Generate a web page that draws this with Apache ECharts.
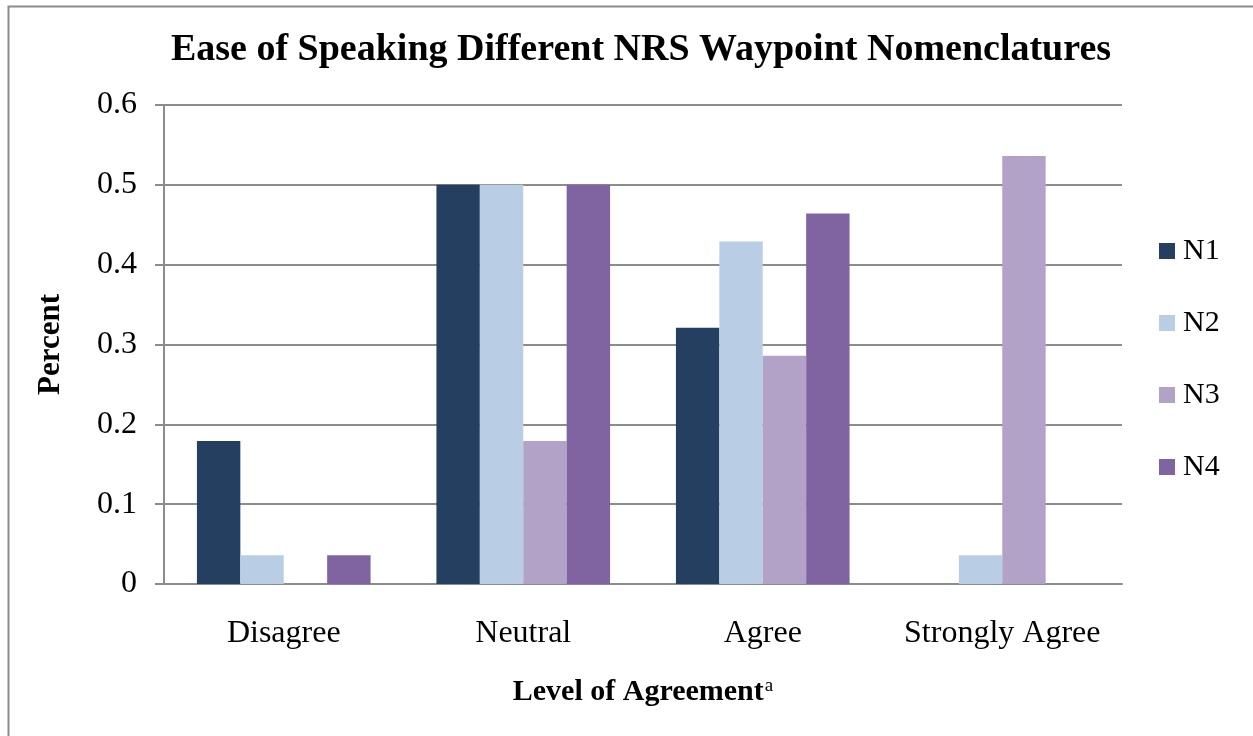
<!DOCTYPE html>
<html><head><meta charset="utf-8">
<script src="https://cdn.jsdelivr.net/npm/echarts@6/dist/echarts.min.js"></script>
<style>html,body{margin:0;padding:0;background:#fff}#c{width:1253px;height:736px}</style>
</head><body><div id="c"></div>
<script>
const categories = ['Disagree', 'Neutral', 'Agree', 'Strongly Agree'];
const seriesNames = ['N1', 'N2', 'N3', 'N4'];
const N1 = [0.179, 0.5, 0.321, 0];
const N2 = [0.036, 0.5, 0.429, 0.036];
const N3 = [0, 0.179, 0.286, 0.536];
const N4 = [0.036, 0.5, 0.464, 0];
const yTicks = [0, 0.1, 0.2, 0.3, 0.4, 0.5, 0.6];
const colors = ['#243F60', '#B9CDE5', '#B3A2C7', '#8064A2'];
const values = [N1, N2, N3, N4];
const font = 'Liberation Serif, Times New Roman, serif';

const chart = echarts.init(document.getElementById('c'), null, {renderer: 'canvas'});
chart.setOption({
  animation: false,
  backgroundColor: '#fff',
  textStyle: {fontFamily: font},
  graphic: [{
    type: 'rect', left: 6, top: 4, shape: {width: 1260, height: 750},
    style: {fill: 'none', stroke: '#8c8c8c', lineWidth: 2}, silent: true
  }],
  title: {
    text: 'Ease of Speaking Different NRS Waypoint Nomenclatures',
    left: 636, top: 26, textAlign: 'center',
    textStyle: {fontFamily: font, fontSize: 38, fontWeight: 'bold', color: '#000'}
  },
  legend: {
    orient: 'vertical', left: 1154, top: 231, itemGap: 42,
    itemWidth: 16, itemHeight: 16, icon: 'rect',
    textStyle: {fontFamily: font, fontSize: 30, color: '#000', padding: [0,0,0,3]},
    data: seriesNames
  },
  grid: {left: 164, right: 131, top: 105, bottom: 152, containLabel: false},
  xAxis: {
    type: 'category', data: categories,
    axisLine: {lineStyle: {color: '#8c8c8c', width: 2}},
    axisTick: {show: false},
    axisLabel: {fontFamily: font, fontSize: 32, color: '#000', margin: 34, interval: 0},
    name: '{b|Level of Agreement}{s|a}',
    nameLocation: 'middle', nameGap: 93,
    nameTextStyle: {
      rich: {
        b: {fontFamily: font, fontSize: 30, fontWeight: 'bold', color: '#000'},
        s: {fontFamily: font, fontSize: 19, color: '#000', verticalAlign: 'top', padding: [0,0,10,1]}
      }
    }
  },
  yAxis: {
    type: 'value', min: 0, max: 0.6, interval: 0.1,
    axisLine: {show: true, lineStyle: {color: '#8c8c8c', width: 2}},
    axisTick: {show: true, length: 9, lineStyle: {color: '#8c8c8c', width: 2}},
    splitLine: {lineStyle: {color: '#8c8c8c', width: 2}},
    axisLabel: {fontFamily: font, fontSize: 32, color: '#000', margin: 27,
      formatter: v => { const t = yTicks.find(x => Math.abs(x - v) < 1e-9); return t === undefined ? '' : String(t); }},
    name: 'Percent', nameLocation: 'middle', nameGap: 98, nameRotate: 90,
    nameTextStyle: {fontFamily: font, fontSize: 31, fontWeight: 'bold', color: '#000'}
  },
  series: seriesNames.map((n, i) => ({
    name: n, type: 'bar', data: values[i],
    barGap: '0%', barCategoryGap: '27.5%',
    itemStyle: {color: colors[i]}
  }))
});
</script></body></html>
